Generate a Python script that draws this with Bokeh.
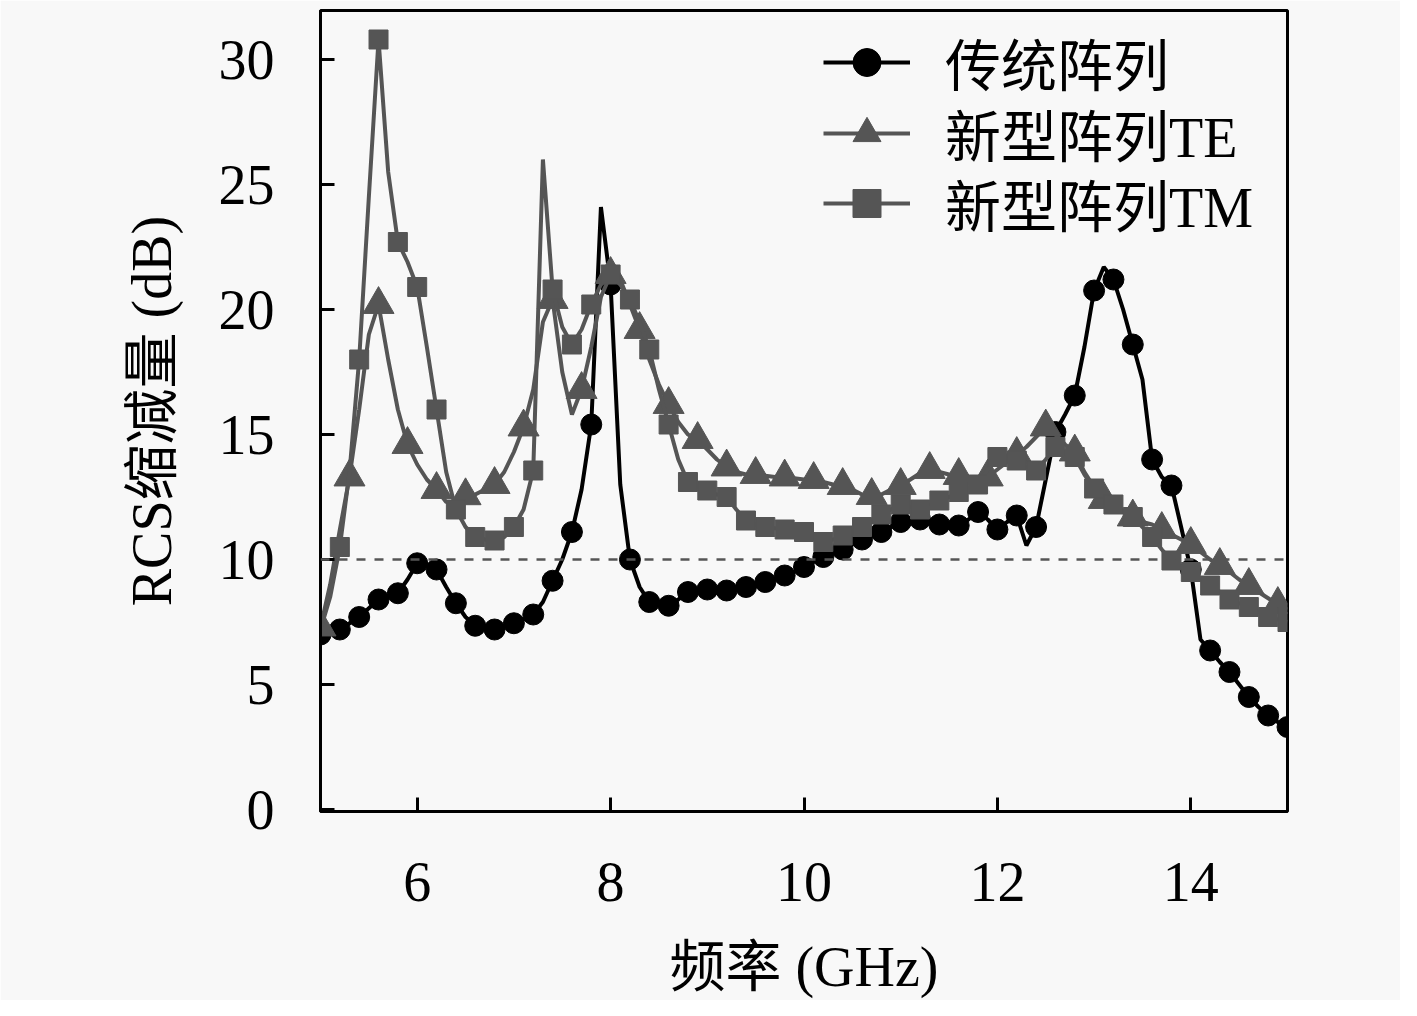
from bokeh.plotting import figure
from bokeh.models import Range1d, Span, Legend, LegendItem, FixedTicker
from bokeh.embed import file_html
from bokeh.resources import INLINE

# ---------------- data ----------------
FREQ = [round(5 + 0.1 * i, 1) for i in range(101)]  # GHz grid, 0.1 GHz step

CONV = [7.0, 7.1, 7.2, 7.45, 7.7, 8.05, 8.4, 8.5, 8.65, 9.2,
        9.85, 9.8, 9.6, 8.9, 8.25, 7.7, 7.35, 7.25, 7.2, 7.3,
        7.45, 7.6, 7.8, 8.3, 9.15, 10.0, 11.1, 12.8, 15.4, 24.1,
        21.0, 13.0, 10.0, 8.9, 8.3, 8.2, 8.15, 8.4, 8.7, 8.75,
        8.8, 8.8, 8.76, 8.8, 8.9, 9.0, 9.1, 9.2, 9.36, 9.5,
        9.7, 9.9, 10.1, 10.25, 10.4, 10.6, 10.8, 10.95, 11.1, 11.3,
        11.5, 11.6, 11.6, 11.5, 11.4, 11.35, 11.36, 11.6, 11.9, 11.6,
        11.2, 11.5, 11.76, 10.56, 11.3, 13.2, 15.1, 15.8, 16.56, 18.5,
        20.76, 21.7, 21.2, 20.0, 18.6, 17.2, 14.0, 13.3, 12.96, 11.3,
        9.6, 6.8, 6.36, 5.9, 5.5, 5.0, 4.5, 4.1, 3.76, 3.5,
        3.3]

TE = [7.3, 9.0, 11.2, 13.3, 16.0, 19.0, 20.2, 18.0, 16.0, 14.6,
      13.8, 13.2, 12.8, 12.3, 12.3, 12.55, 12.6, 12.8, 13.0, 13.5,
      14.3, 15.3, 16.8, 19.5, 20.4, 17.5, 15.8, 16.8, 18.5, 20.5,
      21.4, 21.2, 20.2, 19.2, 18.0, 17.0, 16.2, 15.5, 15.0, 14.8,
      14.4, 14.0, 13.7, 13.5, 13.4, 13.4, 13.35, 13.3, 13.3, 13.25,
      13.2, 13.2, 13.1, 13.0, 12.96, 12.8, 12.6, 12.56, 12.6, 12.8,
      12.96, 13.2, 13.45, 13.6, 13.5, 13.4, 13.36, 13.3, 13.3, 13.3,
      13.6, 13.9, 14.2, 14.5, 14.9, 15.3, 15.0, 14.6, 14.3, 13.5,
      12.9, 12.4, 12.1, 11.9, 11.7, 11.5, 11.4, 11.2, 11.0, 10.8,
      10.6, 10.3, 10.0, 9.76, 9.5, 9.2, 8.96, 8.7, 8.45, 8.2,
      8.0]

TM = [7.2, 8.5, 10.5, 13.5, 18.0, 24.5, 30.8, 25.5, 22.7, 21.9,
      20.9, 18.5, 16.0, 13.5, 12.0, 11.3, 10.9, 10.8, 10.76, 10.9,
      11.3, 12.0, 13.56, 26.0, 20.8, 19.3, 18.6, 19.2, 20.2, 21.0,
      21.4, 21.0, 20.4, 19.5, 18.4, 16.8, 15.4, 14.0, 13.1, 12.9,
      12.76, 12.6, 12.5, 12.0, 11.56, 11.4, 11.3, 11.25, 11.2, 11.15,
      11.1, 10.9, 10.7, 10.8, 10.96, 11.1, 11.3, 11.55, 11.8, 12.0,
      12.2, 12.1, 12.0, 12.2, 12.36, 12.5, 12.7, 12.85, 13.0, 13.6,
      14.1, 14.0, 13.96, 13.7, 13.56, 14.0, 14.5, 14.3, 14.1, 13.4,
      12.84, 12.5, 12.2, 11.95, 11.7, 11.3, 10.9, 10.4, 9.96, 9.7,
      9.5, 9.2, 8.96, 8.7, 8.4, 8.25, 8.1, 7.9, 7.7, 7.6,
      7.5]

LABELS = ["传统阵列", "新型阵列TE", "新型阵列TM"]
X_TICKS = [6, 8, 10, 12, 14]
Y_TICKS = [0, 5, 10, 15, 20, 25, 30]
THRESHOLD = 10
X_LABEL = "频率 (GHz)"
Y_LABEL = "RCS缩减量 (dB)"

# marker subsets (markers are drawn every 0.2 GHz / 0.3 GHz along the curves)
conv_mx = FREQ[0::2]
conv_my = CONV[0::2]
te_mx = FREQ[0::3]
te_my = TE[0::3]
tm_mx = FREQ[2::2]
tm_my = TM[2::2]

# ---------------- figure ----------------
FONT = "Liberation Serif, Noto Sans CJK SC"
GRAY = "#555555"
BG = "#f8f8f8"

p = figure(width=1400, height=1000,
           min_border_left=320, min_border_right=113,
           min_border_top=10, min_border_bottom=189,
           x_range=Range1d(5, 15), y_range=Range1d(-0.08, 31.96),
           output_backend="svg", toolbar_location=None,
           background_fill_color=BG, border_fill_color=BG)
p.grid.visible = False
p.outline_line_color = "black"
p.outline_line_width = 3
p.outline_line_alpha = 1.0

for ax in (p.xaxis[0], p.yaxis[0]):
    ax.axis_line_width = 3
    ax.major_tick_line_width = 3
    ax.major_tick_in = 14
    ax.major_tick_out = 0
    ax.minor_tick_line_color = None
    ax.major_label_text_font = FONT
    ax.major_label_text_font_size = "56px"
    ax.major_label_text_color = "black"
    ax.axis_label_text_font = FONT
    ax.axis_label_text_font_size = "56px"
    ax.axis_label_text_font_style = "normal"
    ax.axis_label_text_color = "black"

p.xaxis.ticker = FixedTicker(ticks=X_TICKS)
p.yaxis.ticker = FixedTicker(ticks=Y_TICKS)
p.xaxis.axis_label = X_LABEL
p.yaxis.axis_label = Y_LABEL
p.xaxis.major_label_standoff = 51
p.yaxis.major_label_standoff = 46
p.xaxis.axis_label_standoff = 32
p.yaxis.axis_label_standoff = 33

# conventional (drawn first, underneath)
cv_line = p.line(FREQ, CONV, line_color="black", line_width=4)
cv_mark = p.scatter(conv_mx, conv_my, marker="circle", size=21,
                    fill_color="black", line_color="black")
# TE
te_line = p.line(FREQ, TE, line_color=GRAY, line_width=4)
te_mark = p.scatter(te_mx, te_my, marker="triangle", size=31,
                    fill_color=GRAY, line_color=GRAY)
# TM
tm_line = p.line(FREQ, TM, line_color=GRAY, line_width=4)
tm_mark = p.scatter(tm_mx, tm_my, marker="square", size=19,
                    fill_color=GRAY, line_color=GRAY)

span = Span(location=THRESHOLD, dimension="width", line_color=GRAY,
            line_width=2.5, line_dash="9 9", level="overlay")
p.add_layout(span)

# one legend per entry, so the row spacing matches the reference
legend_rows = [
    (LABELS[0], [cv_line, cv_mark], 709),
    (LABELS[1], [te_line, te_mark], 638),
    (LABELS[2], [tm_line, tm_mark], 568),
]
for label, rends, vy in legend_rows:
    lg = Legend(items=[LegendItem(label=label, renderers=rends)],
                location=(503, vy))
    lg.label_text_font = FONT
    lg.label_text_font_size = "56px"
    lg.label_text_color = "black"
    lg.glyph_width = 87
    lg.glyph_height = 70
    lg.label_height = 70
    lg.label_standoff = 35
    lg.padding = 0
    lg.margin = 0
    lg.border_line_color = None
    lg.background_fill_alpha = 0
    p.add_layout(lg)

open("out.html", "w").write(file_html(p, INLINE))
